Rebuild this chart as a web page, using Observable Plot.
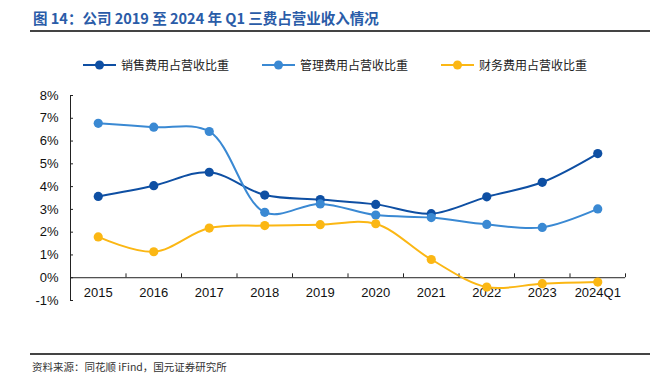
<!DOCTYPE html>
<html>
<head>
<meta charset="utf-8">
<script src="https://cdn.jsdelivr.net/npm/d3@7"></script>
<script src="https://cdn.jsdelivr.net/npm/@observablehq/plot@0.6"></script>
<style>
  html, body { margin: 0; padding: 0; background: #fff; }
  #wrap { position: relative; width: 650px; height: 380px; overflow: hidden; font-family: "Noto Sans CJK SC", sans-serif; }
  #title { position: absolute; left: 33px; top: 7px; font-size: 14.5px; font-weight: bold; color: #2a5ca8; white-space: nowrap; }
  #rule1 { position: absolute; left: 30px; right: 0; top: 30px; height: 1.5px; background: #444; }
  #legend { position: absolute; top: 56px; left: 0; width: 650px; height: 18px; }
  .item { position: absolute; top: 0; display: flex; align-items: center; font-size: 12px; color: #222; white-space: nowrap; }
  .item svg { margin-right: 5px; }
  #chart { position: absolute; left: 0; top: 80px; }
  #rule2 { position: absolute; left: 30px; right: 0; top: 353px; height: 1.5px; background: #444; }
  #caption { position: absolute; left: 32px; top: 359px; font-size: 10.5px; color: #333; white-space: nowrap; }
</style>
</head>
<body>
<div id="wrap">
  <div id="title">图 14：公司 2019 至 2024 年 Q1 三费占营业收入情况</div>
  <div id="rule1"></div>
  <div id="legend"></div>
  <div id="chart"></div>
  <div id="rule2"></div>
  <div id="caption">资料来源：同花顺 iFind，国元证券研究所</div>
</div>
<script>
const categories = ["2015", "2016", "2017", "2018", "2019", "2020", "2021", "2022", "2023", "2024Q1"];
const seriesNames = ["销售费用占营收比重", "管理费用占营收比重", "财务费用占营收比重"];
const seriesColors = ["#0e4fa3", "#3a89d3", "#fbb714"];
const salesRatio   = [3.57, 4.04, 4.63, 3.63, 3.43, 3.22, 2.81, 3.55, 4.19, 5.45];
const adminRatio   = [6.78, 6.61, 6.42, 2.87, 3.24, 2.75, 2.64, 2.34, 2.21, 3.02];
const financeRatio = [1.79, 1.14, 2.18, 2.29, 2.33, 2.37, 0.80, -0.41, -0.26, -0.19];
const yTicks = [-1, 0, 1, 2, 3, 4, 5, 6, 7, 8];

const seriesValues = [salesRatio, adminRatio, financeRatio];
const data = [];
seriesValues.forEach((vals, s) => {
  vals.forEach((v, i) => data.push({ series: seriesNames[s], i, cat: categories[i], value: v }));
});
const idx = categories.map((c, i) => i);
const bounds = idx.map(i => i + 0.5);

// legend
const legend = document.getElementById("legend");
const legendX = [83, 262, 441];
seriesNames.forEach((name, s) => {
  const el = document.createElement("div");
  el.className = "item";
  el.style.left = legendX[s] + "px";
  el.innerHTML = `<svg width="33" height="12"><line x1="0" y1="6" x2="33" y2="6" stroke="${seriesColors[s]}" stroke-width="2"/><circle cx="16.5" cy="6" r="4.5" fill="${seriesColors[s]}"/></svg><span>${name}</span>`;
  legend.appendChild(el);
});

const font = "'Liberation Sans', Arial, sans-serif";
const chart = Plot.plot({
  width: 650,
  height: 230,
  marginTop: 15,
  marginBottom: 10,
  marginLeft: 70,
  marginRight: 25,
  style: { fontFamily: font, fontSize: "13px", color: "#111", background: "transparent" },
  x: { type: "linear", domain: [-0.5, categories.length - 0.5], axis: null },
  y: { domain: [-1, 8], axis: null },
  color: { domain: seriesNames, range: seriesColors },
  marks: [
    Plot.axisY({ ticks: yTicks, tickSize: 0, tickPadding: 12, tickFormat: d => d + "%", fontSize: 13, fill: "#111", label: null }),
    Plot.ruleY(yTicks, { y: d => d, x1: -0.5, x2: -0.5 + 3 / 55.5, stroke: "#222", strokeWidth: 1 }),
    Plot.ruleX([-0.5], { y1: -1, y2: 8, stroke: "#222", strokeWidth: 1 }),
    Plot.ruleY([0], { x1: -0.5, x2: categories.length - 0.5, stroke: "#222", strokeWidth: 1 }),
    Plot.ruleX(bounds, { x: d => d, y1: 0, y2: 0.17, stroke: "#222", strokeWidth: 1 }),
    Plot.text(idx, { x: d => d, y: () => 0, text: d => categories[d], dy: 15, fontSize: 13, fill: "#111" }),
    Plot.line(data, { x: "i", y: "value", z: "series", stroke: "series", strokeWidth: 2, curve: "catmull-rom" }),
    Plot.dot(data, { x: "i", y: "value", fill: "series", r: 4.6, stroke: "none" })
  ]
});
document.getElementById("chart").appendChild(chart);
</script>
</body>
</html>
